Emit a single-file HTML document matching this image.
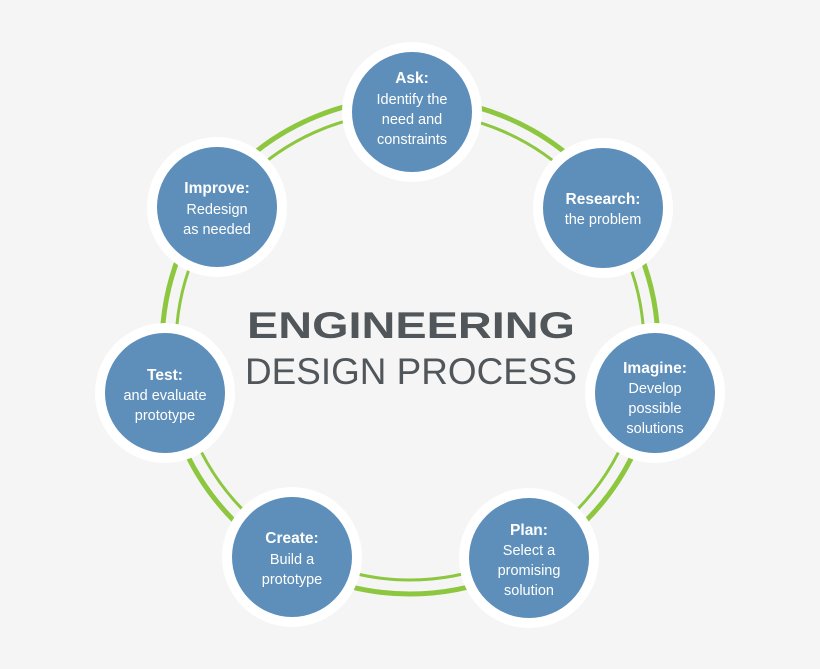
<!DOCTYPE html>
<html><head><meta charset="utf-8"><style>
html,body{margin:0;padding:0;background:#f5f5f5;}
svg{display:block;}
text{font-family:"Liberation Sans",sans-serif;}
</style></head><body>
<svg width="820" height="669" viewBox="0 0 820 669" xmlns="http://www.w3.org/2000/svg">
<rect width="820" height="669" fill="#f5f5f5"/>
<circle cx="410" cy="346" r="248" fill="none" stroke="#8dc63f" stroke-width="5"/>
<circle cx="410" cy="346" r="234" fill="none" stroke="#8dc63f" stroke-width="3"/>
<g fill="#fff">
<circle cx="412" cy="112" r="70"/>
<circle cx="603" cy="208" r="70"/>
<circle cx="655" cy="393" r="70"/>
<circle cx="529" cy="558" r="70"/>
<circle cx="292" cy="557" r="70"/>
<circle cx="165" cy="393" r="70"/>
<circle cx="217" cy="207" r="70"/>
</g>
<g fill="#5d8fba">
<circle cx="412" cy="112" r="60"/>
<circle cx="603" cy="208" r="60"/>
<circle cx="655" cy="393" r="60"/>
<circle cx="529" cy="558" r="60"/>
<circle cx="292" cy="557" r="60"/>
<circle cx="165" cy="393" r="60"/>
<circle cx="217" cy="207" r="60"/>
</g>
<g fill="#fff" text-anchor="middle" font-size="14.5">
<text x="412" y="83" font-weight="bold" font-size="15.5">Ask:</text>
<text x="412" y="104">Identify the</text>
<text x="412" y="124">need and</text>
<text x="412" y="144">constraints</text>
<text x="603" y="204" font-weight="bold" font-size="15.5">Research:</text>
<text x="603" y="224">the problem</text>
<text x="655" y="373" font-weight="bold" font-size="15.5">Imagine:</text>
<text x="655" y="393">Develop</text>
<text x="655" y="413">possible</text>
<text x="655" y="433">solutions</text>
<text x="529" y="535" font-weight="bold" font-size="15.5">Plan:</text>
<text x="529" y="555">Select a</text>
<text x="529" y="575">promising</text>
<text x="529" y="595">solution</text>
<text x="292" y="543" font-weight="bold" font-size="15.5">Create:</text>
<text x="292" y="564">Build a</text>
<text x="292" y="584">prototype</text>
<text x="165" y="380" font-weight="bold" font-size="15.5">Test:</text>
<text x="165" y="400">and evaluate</text>
<text x="165" y="420">prototype</text>
<text x="217" y="193" font-weight="bold" font-size="15.5">Improve:</text>
<text x="217" y="214">Redesign</text>
<text x="217" y="234">as needed</text>
</g>
<text x="247" y="338" font-size="37" font-weight="bold" fill="#50565a" textLength="328" lengthAdjust="spacingAndGlyphs">ENGINEERING</text>
<text x="245" y="384" font-size="37" fill="#50565a" textLength="332" lengthAdjust="spacingAndGlyphs">DESIGN PROCESS</text>
</svg>
</body></html>
